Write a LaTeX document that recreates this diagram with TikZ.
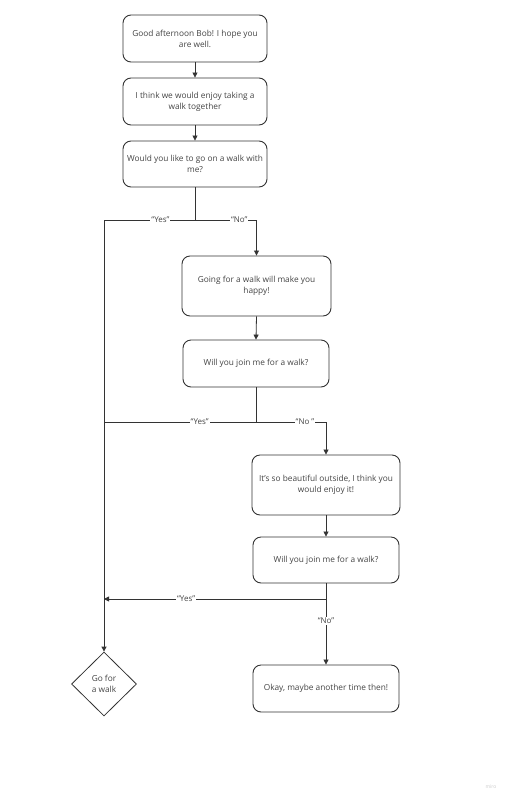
\documentclass[tikz,border=0pt]{standalone}
\usepackage{fontspec}
\setmainfont{Open Sans}
\usetikzlibrary{shapes.geometric,arrows.meta}
\definecolor{ink}{HTML}{333333}
\definecolor{txt}{HTML}{444444}
\tikzset{
  box/.style={draw=ink, rounded corners=8pt, line width=0.9pt, align=center, font=\fontsize{8.3}{11.2}\selectfont, text=txt, inner sep=0pt},
  dia/.style={draw=ink, diamond, line width=0.8pt, align=center, font=\fontsize{8.3}{11.2}\selectfont, text=txt, inner sep=0pt, minimum width=65pt, minimum height=64pt},
  conn/.style={draw=ink, line width=0.8pt},
  arr/.style={conn, -{Triangle[length=5pt,width=5pt]}},
  lbl/.style={fill=white, inner sep=1pt, font=\fontsize{8}{9}\selectfont, text=txt}
}
\begin{document}
\begin{tikzpicture}[x=1pt,y=-1pt]
\useasboundingbox (0,0) rectangle (511,801);
\fill[white] (0,0) rectangle (511,801);
\node[box, minimum width=144pt, minimum height=47pt] (b1) at (195,38.5) {Good afternoon Bob! I hope you\\are well.};
\node[box, minimum width=144pt, minimum height=47pt] (b2) at (195,101.5) {I think we would enjoy taking a\\walk together};
\node[box, minimum width=144pt, minimum height=46pt] (b3) at (195,164) {Would you like to go on a walk with\\me?};
\node[box, minimum width=149pt, minimum height=60pt] (b4) at (256.5,286) {Going for a walk will make you\\happy!};
\node[box, minimum width=146pt, minimum height=47pt] (b5) at (256,363.5) {Will you join me for a walk?};
\node[box, minimum width=148pt, minimum height=60pt] (b6) at (326,485) {It's so beautiful outside, I think you\\would enjoy it!};
\node[box, minimum width=146pt, minimum height=46pt] (b7) at (326,560) {Will you join me for a walk?};
\node[box, minimum width=146pt, minimum height=47pt] (b8) at (326,688.5) {Okay, maybe another time then!};
\node[dia] (d) at (104,684) {Go for\\a walk};
\node[font=\fontsize{5}{6}\selectfont, text=black!20] (wm) at (491,787) {miro};

\coordinate (j1) at (b3.south |- 0,220);
\coordinate (j2) at (b5.south |- 0,422);
\coordinate (j3) at (b7.south |- 0,599);

\draw[arr] (b1.south) -- (b2.north);
\draw[arr] (b2.south) -- (b3.north);
\draw[conn] (b3.south) -- (j1);
\draw[arr] (j1) -- node[lbl, pos=0.38] {“Yes”} (d.north |- j1) -- (d.north);
\draw[arr] (j1) -- node[lbl, pos=0.72] {“No”} (b4.north |- j1) -- (b4.north);
\draw[arr] (b4.south) -- (b5.north);
\draw[conn] (b5.south) -- (j2);
\draw[conn] (j2) -- node[lbl, pos=0.37] {“Yes”} (d.north |- j2);
\draw[arr] (j2) -- node[lbl, pos=0.7] {“No ”} (b6.north |- j2) -- (b6.north);
\draw[arr] (b6.south) -- (b7.north);
\draw[conn] (b7.south) -- (j3);
\draw[arr] (j3) -- node[lbl, pos=0.63] {“Yes”} (d.north |- j3);
\draw[arr] (j3) -- node[lbl, pos=0.33] {“No”} (b8.north);
\end{tikzpicture}
\end{document}
